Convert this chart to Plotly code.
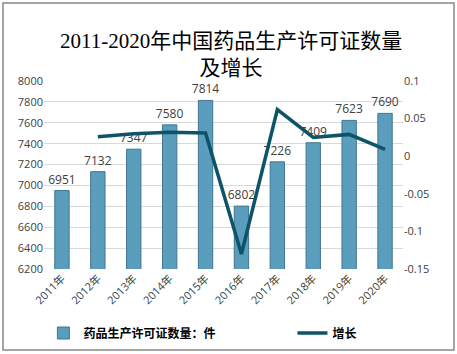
import plotly.graph_objects as go

years = ["2011年", "2012年", "2013年", "2014年", "2015年", "2016年", "2017年", "2018年", "2019年", "2020年"]
counts = [6951, 7132, 7347, 7580, 7814, 6802, 7226, 7409, 7623, 7690]
growth_years = years[1:]
growth = [0.026, 0.030, 0.032, 0.031, -0.130, 0.062, 0.025, 0.029, 0.009]
left_ticks = [6200, 6400, 6600, 6800, 7000, 7200, 7400, 7600, 7800, 8000]
right_ticks = [-0.15, -0.1, -0.05, 0, 0.05, 0.1]
right_labels = ["-0.15", "-0.1", "-0.05", "0", "0.05", "0.1"]

W, H = 457, 354
ML, MR, MT, MB = 44, 54, 81, 85
PW, PH = W - ML - MR, H - MT - MB

fig = go.Figure()
fig.add_trace(go.Bar(
    x=years, y=counts, name="药品生产许可证数量：件",
    marker=dict(color="#5a9dbd", line=dict(color="#3f7690", width=1)),
    width=0.4,
    text=[str(v) for v in counts], textposition="outside", constraintext="none",
    textfont=dict(size=12, color="#404040", family="Open Sans"),
    cliponaxis=False, legend="legend",
))
fig.add_trace(go.Scatter(
    x=growth_years, y=growth, name="增长", yaxis="y2", mode="lines",
    line=dict(color="#0e5468", width=3.5), legend="legend2",
))

legend_font = dict(size=12, color="black", family="Noto Sans CJK SC", weight="bold")
fig.update_layout(
    width=W, height=H,
    margin=dict(l=ML, r=MR, t=MT, b=MB, autoexpand=False),
    paper_bgcolor="white", plot_bgcolor="white",
    font=dict(family="Open Sans, Noto Sans CJK SC", size=11, color="#404040"),
    showlegend=True,
    legend=dict(orientation="h", xref="container", yref="container", x=0.095, xanchor="left",
                y=21/H, yanchor="middle", font=legend_font, itemwidth=30,
                bgcolor="rgba(0,0,0,0)"),
    legend2=dict(orientation="h", xref="container", yref="container", x=0.64, xanchor="left",
                 y=21/H, yanchor="middle", font=legend_font, itemwidth=30,
                 bgcolor="rgba(0,0,0,0)"),
    xaxis=dict(tickangle=-45, showgrid=False, showline=False, ticks="", automargin=False,
               tickfont=dict(size=11, color="#404040")),
    yaxis=dict(range=[6200, 8000], tickvals=left_ticks, showgrid=True, gridcolor="#d9d9d9",
               zeroline=False, showline=False, ticks="", automargin=False,
               tickfont=dict(size=11, color="#404040")),
    yaxis2=dict(range=[-0.15, 0.1], tickvals=right_ticks, ticktext=right_labels,
                overlaying="y", side="right", showgrid=False, zeroline=False, automargin=False,
                showline=False, ticks="", tickfont=dict(size=11, color="#404040")),
)
fig.add_annotation(text="2011-2020年中国药品生产许可证数量<br>及增长", xref="paper", yref="paper",
                   x=0.5 + (231 - (ML + PW / 2)) / PW, y=1 + (MT - 27) / PH,
                   xanchor="center", yanchor="top", showarrow=False,
                   font=dict(size=21, color="black", family="Liberation Serif, Noto Sans CJK SC"))
fig.add_shape(type="rect", xref="paper", yref="paper",
              x0=(3 - ML) / PW, x1=(454 - ML) / PW,
              y0=(MT + PH - 350) / PH, y1=(MT + PH - 3) / PH,
              line=dict(color="#888888", width=1.5))

fig.write_html("out.html")
